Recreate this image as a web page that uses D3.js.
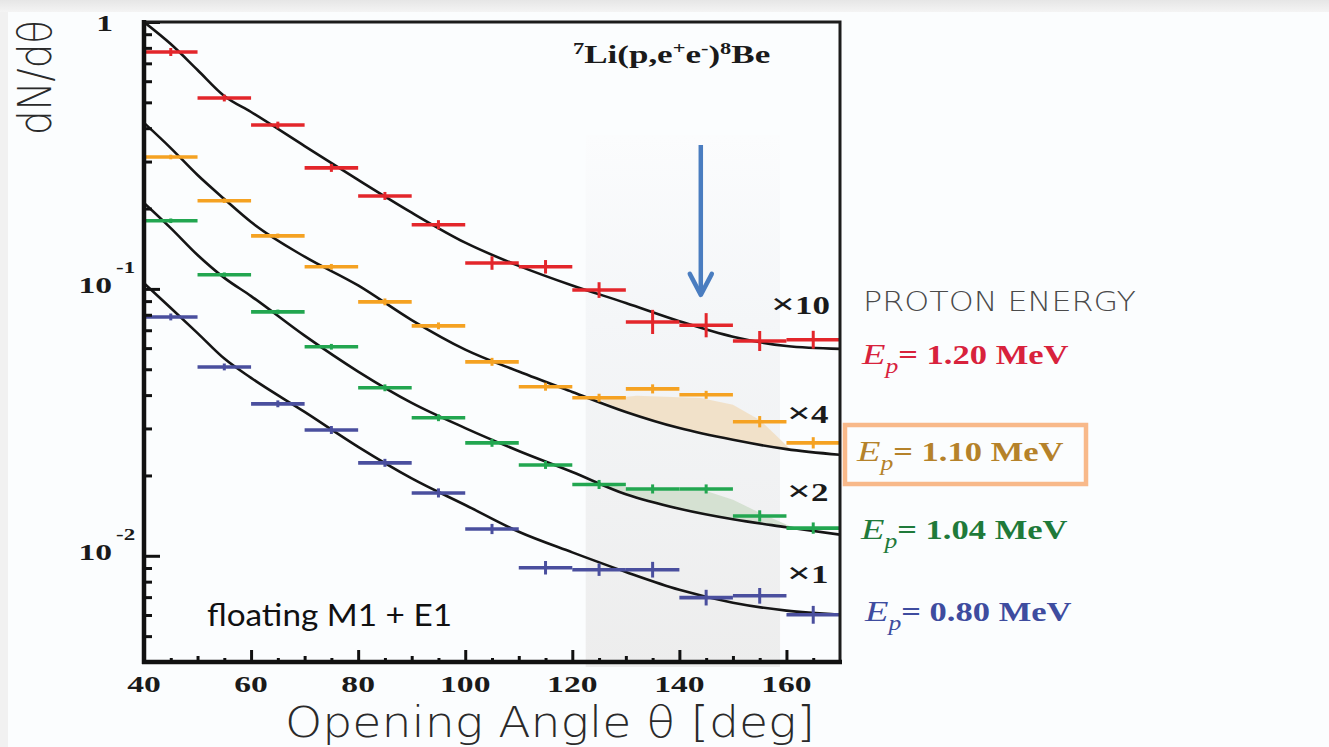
<!DOCTYPE html>
<html>
<head>
<meta charset="utf-8">
<script src="https://cdn.jsdelivr.net/npm/d3@7"></script>
<style>
  body { margin: 0; background: #fbfdfe; }
  svg { display: block; }
</style>
</head>
<body>
<div id="chart"></div>
<script>
// ---------------------------------------------------------------------------
// Data (opening angle in deg, dN/dtheta scaled)
// ---------------------------------------------------------------------------
const binCenters = [45, 55, 65, 75, 85, 95, 105, 115, 125, 135, 145, 155, 165];
const binHalfWidth = 5;

const red120 = [0.772, 0.519, 0.411, 0.284, 0.223, 0.174, 0.125, 0.121, 0.099, 0.0752, 0.0731, 0.0638, 0.0645];
const orange110 = [0.312, 0.214, 0.158, 0.121, 0.0894, 0.0727, 0.0533, 0.0430, 0.0391, 0.0422, 0.0401, 0.0318, 0.0265];
const green104 = [0.180, 0.113, 0.0820, 0.0607, 0.0426, 0.0329, 0.0265, 0.0219, 0.0185, 0.0178, 0.0178, 0.0141, 0.0127];
const blue080 = [0.0785, 0.0510, 0.0371, 0.0296, 0.0223, 0.0172, 0.0126, 0.00902, 0.00887, 0.00887, 0.00697, 0.00708, 0.00601];

// relative errors
const red120Err = [0.035, 0.03, 0.03, 0.035, 0.035, 0.04, 0.06, 0.06, 0.07, 0.11, 0.11, 0.09, 0.08];
const orange110Err = [0.02, 0.02, 0.02, 0.025, 0.03, 0.03, 0.035, 0.035, 0.035, 0.04, 0.035, 0.05, 0.05];
const green104Err = [0.02, 0.02, 0.02, 0.025, 0.03, 0.03, 0.035, 0.035, 0.04, 0.04, 0.04, 0.05, 0.05];
const blue080Err = [0.03, 0.03, 0.03, 0.035, 0.035, 0.04, 0.045, 0.06, 0.055, 0.07, 0.07, 0.07, 0.08];

// fitted curves (M1 + E1)
const curveAngles = [40, 45, 50, 55, 60, 70, 80, 90, 100, 110, 120, 130, 140, 150, 160, 170];
const red120Fit = [1.0, 0.827, 0.661, 0.528, 0.460, 0.343, 0.256, 0.193, 0.149, 0.122, 0.103, 0.0886, 0.0757, 0.0662, 0.0611, 0.0596];
const orange110Fit = [0.419, 0.337, 0.267, 0.217, 0.178, 0.132, 0.103, 0.0764, 0.0592, 0.0490, 0.0411, 0.0346, 0.0301, 0.0272, 0.0251, 0.0239];
const green104Fit = [0.210, 0.169, 0.134, 0.110, 0.0940, 0.0668, 0.0490, 0.0374, 0.0301, 0.0247, 0.0206, 0.0170, 0.0150, 0.0137, 0.0128, 0.0120];
const blue080Fit = [0.105, 0.0848, 0.0683, 0.0548, 0.0464, 0.0346, 0.0256, 0.0195, 0.0155, 0.0123, 0.0103, 0.00870, 0.00746, 0.00667, 0.00623, 0.00601];

// excess regions
const orangeExcessAngles = [125, 132, 144, 150, 155, 160.7];
const orangeExcess = [0.0385, 0.0398, 0.0390, 0.0368, 0.0323, 0.0251];
const orangeFitBackAngles = [160, 150, 140, 130];
const orangeFitBack = [0.0251, 0.0272, 0.0301, 0.0346];
const greenExcessAngles = [125.7, 135, 145, 150, 155, 160.7];
const greenExcess = [0.0185, 0.0176, 0.0175, 0.0162, 0.0145, 0.0129];
const greenFitBackAngles = [160, 150, 140, 130];
const greenFitBack = [0.0128, 0.0137, 0.0150, 0.0170];

const bandRange = [122.5, 158.8];
const bandTop = 0.377;
const arrowAngle = 144;
const arrowRange = [0.346, 0.095];

const xTicks = [40, 60, 80, 100, 120, 140, 160];
const multipliers = ["×10", "×4", "×2", "×1"];
const energies = ["1.20", "1.10", "1.04", "0.80"];

const series = [
  { values: red120, err: red120Err, fit: red120Fit, color: "#e3262b", label: "#d8223c", mult: multipliers[0], energy: energies[0] },
  { values: orange110, err: orange110Err, fit: orange110Fit, color: "#f5a222", label: "#b5822a", mult: multipliers[1], energy: energies[1] },
  { values: green104, err: green104Err, fit: green104Fit, color: "#22a650", label: "#1f7a3a", mult: multipliers[2], energy: energies[2] },
  { values: blue080, err: blue080Err, fit: blue080Fit, color: "#4a4f9e", label: "#3e4c9f", mult: multipliers[3], energy: energies[3] }
];

// ---------------------------------------------------------------------------
// Canvas
// ---------------------------------------------------------------------------
const W = 1329, H = 747;
const svg = d3.select("#chart").append("svg").attr("width", W).attr("height", H);
const defs = svg.append("defs");

const topGrad = defs.append("linearGradient").attr("id", "topbar").attr("x1", 0).attr("x2", 0).attr("y1", 0).attr("y2", 1);
topGrad.append("stop").attr("offset", "0%").attr("stop-color", "#e6e6e6");
topGrad.append("stop").attr("offset", "100%").attr("stop-color", "#f4f4f4");

const bandGrad = defs.append("linearGradient").attr("id", "band").attr("x1", 0).attr("x2", 0).attr("y1", 0).attr("y2", 1);
bandGrad.append("stop").attr("offset", "0%").attr("stop-color", "#fbfcfd");
bandGrad.append("stop").attr("offset", "35%").attr("stop-color", "#f4f6f8");
bandGrad.append("stop").attr("offset", "100%").attr("stop-color", "#ededed");

svg.append("rect").attr("width", W).attr("height", H).attr("fill", "#fbfdfe");
svg.append("rect").attr("width", W).attr("height", 12).attr("fill", "url(#topbar)");
svg.append("rect").attr("y", 12).attr("width", 8).attr("height", H - 12).attr("fill", "#f1f1f1");

const xScale = d3.scaleLinear().domain([40, 170]).range([144, 840]);
const yScale = d3.scaleLog().domain([0.004, 1]).range([662, 22]);

const plot = svg.append("g");
defs.append("clipPath").attr("id", "clip").append("rect")
  .attr("x", 144).attr("y", 22).attr("width", 696).attr("height", 640);

// grey band
plot.append("rect")
  .attr("x", xScale(bandRange[0]))
  .attr("width", xScale(bandRange[1]) - xScale(bandRange[0]))
  .attr("y", yScale(bandTop))
  .attr("height", yScale.range()[0] + 5 - yScale(bandTop))
  .attr("fill", "url(#band)");

// excess shading
const polyLine = d3.line().x(d => xScale(d[0])).y(d => yScale(d[1])).curve(d3.curveLinear);
function excessPoly(a, v, ba, bv) {
  const pts = a.map((x, i) => [x, v[i]]).concat(ba.map((x, i) => [x, bv[i]]));
  return polyLine(pts) + "Z";
}
plot.append("path").attr("d", excessPoly(orangeExcessAngles, orangeExcess, orangeFitBackAngles, orangeFitBack))
  .attr("fill", "#f1dfc4").attr("opacity", 0.9);
plot.append("path").attr("d", excessPoly(greenExcessAngles, greenExcess, greenFitBackAngles, greenFitBack))
  .attr("fill", "#d3dfd0").attr("opacity", 0.95);

// fit curves
const fitLine = d3.line()
  .x((d, i) => xScale(curveAngles[i]))
  .y(d => yScale(d))
  .curve(d3.curveMonotoneX);

plot.append("g").attr("clip-path", "url(#clip)")
  .selectAll("path").data(series).join("path")
  .attr("d", s => fitLine(s.fit))
  .attr("fill", "none").attr("stroke", "#151515").attr("stroke-width", 2.6);

// data points with error bars
series.forEach(s => {
  const g = plot.append("g");
  g.selectAll("line.h").data(s.values).join("line").attr("class", "h")
    .attr("x1", (d, i) => xScale(binCenters[i] - binHalfWidth))
    .attr("x2", (d, i) => xScale(binCenters[i] + binHalfWidth))
    .attr("y1", d => yScale(d)).attr("y2", d => yScale(d))
    .attr("stroke", s.color).attr("stroke-width", 3.6);
  g.selectAll("line.v").data(s.values).join("line").attr("class", "v")
    .attr("x1", (d, i) => xScale(binCenters[i]))
    .attr("x2", (d, i) => xScale(binCenters[i]))
    .attr("y1", (d, i) => yScale(d * (1 + s.err[i])))
    .attr("y2", (d, i) => yScale(d / (1 + s.err[i])))
    .attr("stroke", s.color).attr("stroke-width", 3);
});

// arrow
const ax = xScale(arrowAngle);
const arrow = svg.append("g").attr("stroke", "#4a7dc0").attr("stroke-width", 4.5).attr("fill", "none");
arrow.append("line").attr("x1", ax).attr("x2", ax).attr("y1", yScale(arrowRange[0])).attr("y2", yScale(arrowRange[1]) - 2);
arrow.append("path")
  .attr("d", `M${ax - 11},${yScale(arrowRange[1]) - 21}L${ax},${yScale(arrowRange[1])}L${ax + 11},${yScale(arrowRange[1]) - 21}`)
  .attr("stroke-linecap", "round").attr("stroke-linejoin", "round");

// ---------------------------------------------------------------------------
// Axes & frame
// ---------------------------------------------------------------------------
function tickAxis(axis, transform) {
  const g = svg.append("g").attr("transform", transform).call(axis);
  g.select(".domain").remove();
  g.selectAll("line").attr("stroke", "#111").attr("stroke-width", 3);
  g.selectAll("text").remove();
  return g;
}
const yMajor = [0.01, 0.1, 1];
const yMinor = yScale.ticks().filter(t => yMajor.indexOf(t) < 0);
tickAxis(d3.axisRight(yScale).tickValues(yMajor).tickSize(16), "translate(144,0)");
tickAxis(d3.axisRight(yScale).tickValues(yMinor).tickSize(8), "translate(144,0)");

const x5 = d3.range(45, 170, 5).filter(t => t % 10 !== 0);
const x10 = d3.range(50, 170, 10).filter(t => t % 20 !== 0);
tickAxis(d3.axisTop(xScale).tickValues(x5).tickSize(4), "translate(0,662)");
tickAxis(d3.axisTop(xScale).tickValues(x10).tickSize(6), "translate(0,662)");
tickAxis(d3.axisTop(xScale).tickValues(xTicks.slice(1)).tickSize(12), "translate(0,662)");

svg.append("rect").attr("x", 144).attr("y", 22).attr("width", 696).attr("height", 640)
  .attr("fill", "none").attr("stroke", "#1c1c1c").attr("stroke-width", 3);
svg.append("line").attr("x1", 144).attr("x2", 144).attr("y1", 20).attr("y2", 664).attr("stroke", "#111").attr("stroke-width", 4.5);
svg.append("line").attr("x1", 142).attr("x2", 842).attr("y1", 662).attr("y2", 662).attr("stroke", "#111").attr("stroke-width", 4.5);

// stretched serif text helper (the figure is horizontally stretched)
const serif = "'Liberation Serif', 'Times New Roman', serif";
function stretched(x, y, sx, anchor) {
  return svg.append("g").attr("transform", `translate(${x},${y}) scale(${sx},1)`)
    .append("text").attr("text-anchor", anchor || "start")
    .attr("font-family", serif).attr("font-weight", "bold").attr("fill", "#1a1a1a");
}

xTicks.forEach(t => {
  stretched(xScale(t), 692, 1.4, "middle").attr("font-size", 24).text(t);
});

// y tick labels
stretched(113, 31, 1.4, "end").attr("font-size", 24).text("1");
[[0.1, "-1"], [0.01, "-2"]].forEach(([v, e]) => {
  const y = yScale(v);
  stretched(112, y + 4, 1.4, "end").attr("font-size", 24).text("10");
  stretched(116, y - 16, 1.35, "start").attr("font-size", 17).text(e);
});

// title
const title = stretched(573, 63, 1.4, "start").attr("font-size", 25);
title.append("tspan").attr("font-size", 16).attr("dy", -9).text("7");
title.append("tspan").attr("dy", 9).text("Li(p,e");
title.append("tspan").attr("font-size", 16).attr("dy", -9).text("+");
title.append("tspan").attr("dy", 9).text("e");
title.append("tspan").attr("font-size", 16).attr("dy", -9).text("-");
title.append("tspan").attr("dy", 9).text(")");
title.append("tspan").attr("font-size", 16).attr("dy", -9).text("8");
title.append("tspan").attr("dy", 9).text("Be");

// multiplier labels
const multPos = [[771, 314], [787, 423], [787, 501], [787, 583]];
series.forEach((s, i) => {
  const t = stretched(multPos[i][0], multPos[i][1], 1.4, "start").attr("font-size", 25);
  t.append("tspan").attr("font-size", 30).text(s.mult.charAt(0));
  t.append("tspan").text(s.mult.slice(1));
});

// legend
svg.append("text").attr("x", 863).attr("y", 311)
  .attr("font-family", "'DejaVu Sans', sans-serif").attr("font-weight", 200)
  .attr("font-size", 27).attr("fill", "#4a4a4a")
  .attr("textLength", 273).attr("lengthAdjust", "spacingAndGlyphs")
  .text("PROTON ENERGY");

svg.append("rect").attr("x", 845).attr("y", 425).attr("width", 241).attr("height", 59)
  .attr("fill", "none").attr("stroke", "#f8b98a").attr("stroke-width", 4.5);

const legendPos = [[862, 364], [857, 461], [861, 539], [865, 621]];
series.forEach((s, i) => {
  const t = stretched(legendPos[i][0], legendPos[i][1], 1.28, "start").attr("font-size", 27).attr("fill", s.label);
  t.append("tspan").attr("font-style", "italic").attr("font-weight", "normal").attr("font-size", 30).text("E");
  t.append("tspan").attr("font-style", "italic").attr("font-weight", "normal").attr("font-size", 20).attr("dy", 9).text("p");
  t.append("tspan").attr("dy", -9).text("= " + s.energy + " MeV");
});

// annotation
svg.append("text").attr("x", 207).attr("y", 626)
  .attr("font-family", "Lato, 'Open Sans', sans-serif").attr("font-size", 31).attr("fill", "#111")
  .attr("textLength", 245).attr("lengthAdjust", "spacingAndGlyphs")
  .text("floating M1 + E1");

// axis titles
svg.append("text").attr("x", 285).attr("y", 737)
  .attr("font-family", "'DejaVu Sans', sans-serif").attr("font-weight", 200)
  .attr("font-size", 42).attr("fill", "#2a2a2a")
  .attr("textLength", 530).attr("lengthAdjust", "spacingAndGlyphs")
  .text("Opening Angle θ [deg]");

svg.append("text").attr("transform", "translate(51,135) rotate(-90)")
  .attr("font-family", "'DejaVu Sans', sans-serif").attr("font-weight", 200)
  .attr("font-size", 46).attr("fill", "#2a2a2a")
  .attr("textLength", 115).attr("lengthAdjust", "spacingAndGlyphs")
  .text("dN/dθ");
</script>
</body>
</html>
